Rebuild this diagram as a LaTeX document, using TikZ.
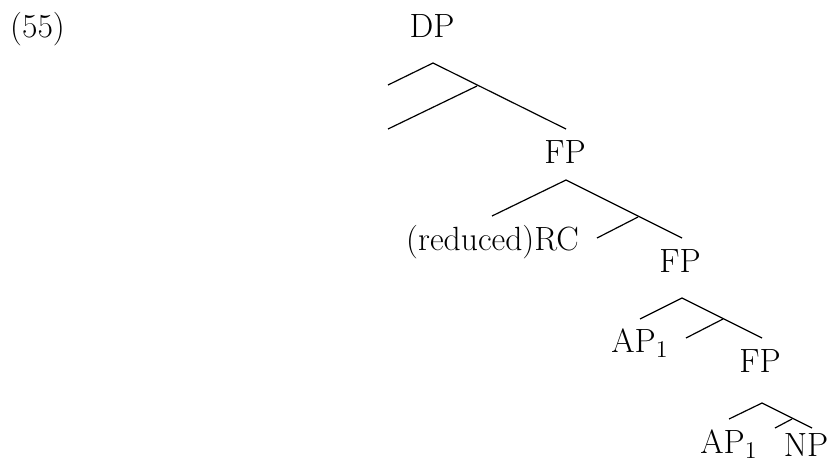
\documentclass[tikz,border=0pt]{standalone}
\begin{document}
\begin{tikzpicture}[x=0.5pt,y=-0.5pt,
  lab/.style={anchor=base,inner sep=0pt,font=\fontsize{16.8}{20}\selectfont},
  br/.style={line width=0.6pt}]
\useasboundingbox (0,0) rectangle (834,463);
% labels
\node[lab] (ex) at (37.5,37) {(55)};
\node[lab] (dp) at (432,37) {DP};
\node[lab] (fp1) at (565,163) {FP};
\node[lab] (rc) at (492.5,250) {(reduced)RC};
\node[lab] (fp2) at (680,272) {FP};
\node[lab] (ap1) at (640,352) {AP$_1$};
\node[lab] (fp3) at (760,372) {FP};
\node[lab] (ap2) at (729,453) {AP$_1$};
\node[lab] (np) at (806,456) {NP};
% level 1
\coordinate (a1) at (433,63);
\coordinate (l1) at (388,85);
\coordinate (r1) at (566,129);
\coordinate (m1) at (477,86);
\coordinate (b1) at (388,129);
\draw[br] (l1) -- (a1) -- (r1);
\draw[br] (m1) -- (b1);
% level 2
\coordinate (a2) at (566,180);
\coordinate (l2) at (492,216);
\coordinate (r2) at (682,238);
\coordinate (m2) at (638,217);
\coordinate (b2) at (597,238);
\draw[br] (l2) -- (a2) -- (r2);
\draw[br] (m2) -- (b2);
% level 3
\coordinate (a3) at (682,298);
\coordinate (l3) at (640,319);
\coordinate (r3) at (762,338);
\coordinate (m3) at (723,319);
\coordinate (b3) at (686,338);
\draw[br] (l3) -- (a3) -- (r3);
\draw[br] (m3) -- (b3);
% level 4
\coordinate (a4) at (762,403);
\coordinate (l4) at (729,419);
\coordinate (r4) at (812,428);
\coordinate (m4) at (792,419);
\coordinate (b4) at (775,428);
\draw[br] (l4) -- (a4) -- (r4);
\draw[br] (m4) -- (b4);
\end{tikzpicture}
\end{document}
